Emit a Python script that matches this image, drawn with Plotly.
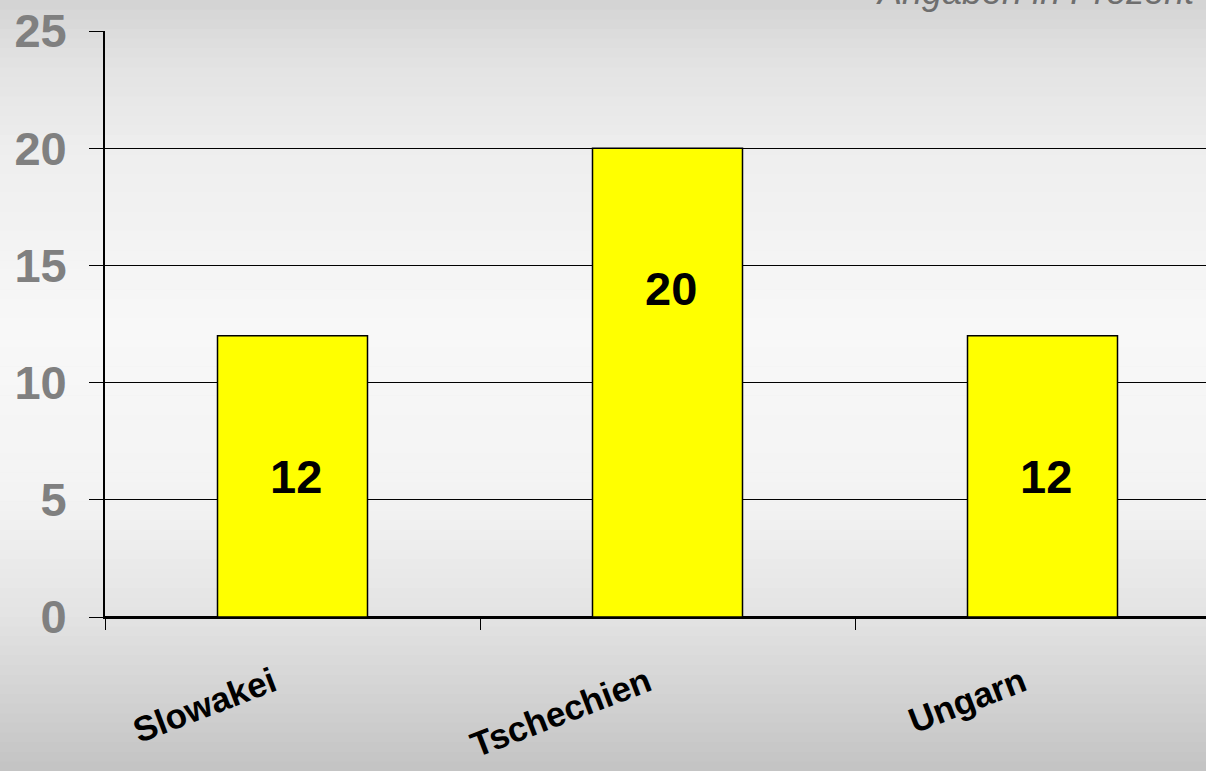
import plotly.graph_objects as go

# Data
categories = ["Slowakei", "Tschechien", "Ungarn"]
values = [12, 20, 12]
label_pos = [6, 14, 6]          # vertical placement of the value labels (data units)
y_ticks = [0, 5, 10, 15, 20, 25]
title_note = "Angaben in Prozent"

W, H = 1206, 771
L, R, T, B = 105, 0, 31, 154
plot_h = H - T - B
plot_w = W - L - R

FONT = "Arial, Liberation Sans, sans-serif"

fig = go.Figure()
fig.add_trace(go.Bar(
    x=categories, y=values, width=0.4,
    marker=dict(color="#FFFF00", line=dict(color="#000000", width=1.5)),
    hoverinfo="x+y", showlegend=False,
))

# value labels
for c, v, p in zip(categories, values, label_pos):
    fig.add_annotation(x=c, y=p, text=str(v), showarrow=False,
                       xref="x", yref="y", xshift=3,
                       font=dict(family=FONT, size=47, color="#000000", weight="bold"))

# background gradient (stripes in paper coords)
def lerp_color(py):
    stops = [(0, 211), (60, 226), (150, 238), (330, 248), (500, 243), (617, 227), (700, 210), (771, 195)]
    for (a, ca), (b, cb) in zip(stops, stops[1:]):
        if a <= py <= b:
            t = (py - a) / (b - a)
            return int(round(ca + (cb - ca) * t))
    return stops[-1][1]

n = 80
for i in range(n):
    p0 = H * i / n
    p1 = H * (i + 1) / n + 0.6
    g = lerp_color((p0 + p1) / 2)
    fig.add_shape(type="rect", xref="paper", yref="paper",
                  x0=-L / plot_w - 0.01, x1=1 + 0.01,
                  y0=(H - B - p1) / plot_h, y1=(H - B - p0) / plot_h,
                  fillcolor=f"rgb({g},{g},{g})", line=dict(width=0), layer="below")

fig.add_annotation(text=title_note, xref="paper", yref="paper",
                   x=(874 - L) / plot_w, xanchor="left",
                   y=(H - B - 14) / plot_h, yanchor="bottom",
                   showarrow=False,
                   font=dict(family=FONT, size=36, color="#6e6e6e", style="italic"))

fig.update_layout(
    width=W, height=H,
    margin=dict(l=L, r=R, t=T, b=B, pad=0),
    paper_bgcolor="#d9d9d9",
    plot_bgcolor="rgba(0,0,0,0)",
    bargap=0.6,
    xaxis=dict(
        type="category", range=[-0.5, -0.5 + plot_w / 375.0],
        showgrid=False, showline=True, linecolor="#000000", linewidth=1.5,
        ticks="outside", ticklen=11, tickwidth=1.2, tickcolor="#000000",
        tickson="boundaries", tickangle=-21,
        tickfont=dict(family=FONT, size=35, color="#000000", weight="bold"),
        ticklabelstandoff=30, ticklabelshift=-20,
        zeroline=False,
    ),
    yaxis=dict(
        range=[0, 25], tickvals=y_ticks,
        showgrid=True, gridcolor="#000000", gridwidth=1.2,
        showline=True, linecolor="#000000", linewidth=1.8,
        ticks="outside", ticklen=14, tickwidth=1.2, tickcolor="#000000",
        tickfont=dict(family=FONT, size=47, color="#808080", weight="bold"),
        ticklabelstandoff=13,
        zeroline=True, zerolinecolor="#000000", zerolinewidth=1.5,
    ),
)

fig.write_html("out.html", config={"displayModeBar": False},
               post_script="document.body.style.margin='0';document.body.style.overflow='hidden';")
